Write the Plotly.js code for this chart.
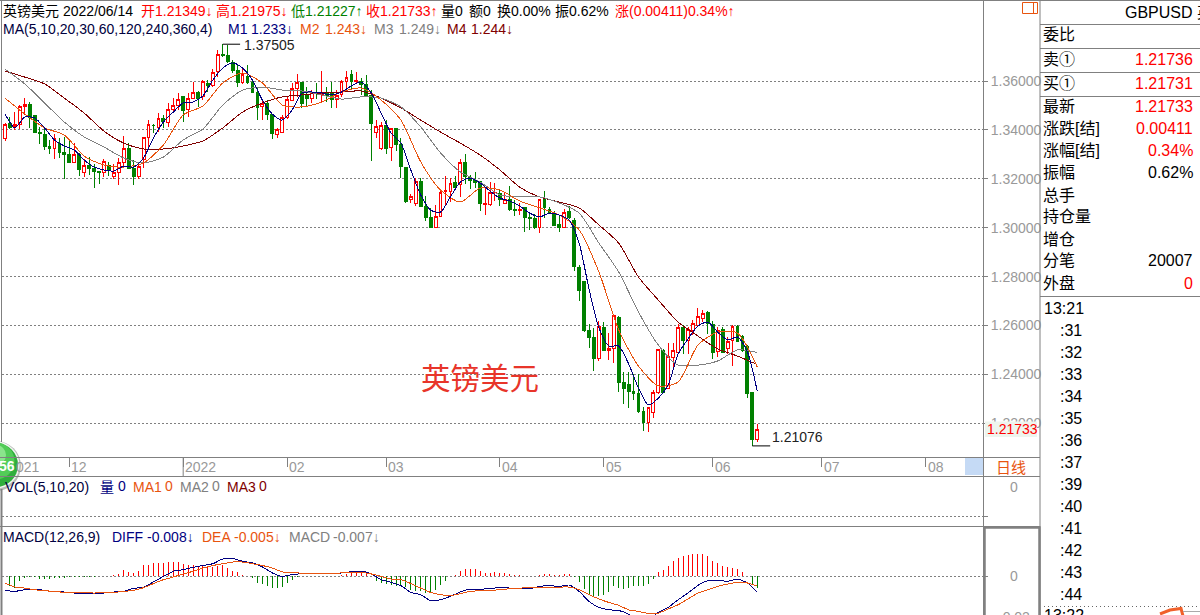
<!DOCTYPE html>
<html>
<head>
<meta charset="utf-8">
<script src="https://cdn.plot.ly/plotly-3.0.1.min.js"></script>
<style>html,body{margin:0;padding:0;background:#fff;overflow:hidden}#c{width:1200px;height:615px}
#c path.js-line,#c .boxlayer path,#c .barlayer path{shape-rendering:crispEdges}</style>
</head>
<body>
<div id="c"></div>
<script>
const opens=[1.3363,1.3428,1.3412,1.3424,1.3494,1.3502,1.3457,1.3391,1.3383,1.3334,
1.3326,1.3346,1.3306,1.3301,1.3265,1.3301,1.3224,1.3256,1.3244,1.3228,
1.3224,1.3256,1.3211,1.3224,1.3265,1.3326,1.3244,1.3211,1.3277,1.3367,
1.3420,1.3408,1.3445,1.3432,1.3485,1.3498,1.3535,1.3485,1.3530,1.3551,
1.3535,1.3588,1.3580,1.3637,1.3710,1.3706,1.3674,1.3645,1.3592,1.3620,
1.3592,1.3555,1.3494,1.3510,1.3461,1.3383,1.3391,1.3449,1.3522,1.3571,
1.3592,1.3539,1.3530,1.3551,1.3543,1.3551,1.3555,1.3526,1.3543,1.3596,
1.3625,1.3596,1.3600,1.3584,1.3539,1.3391,1.3322,1.3420,1.3330,1.3404,
1.3342,1.3248,1.3117,1.3101,1.3187,1.3085,1.3040,1.3002,1.3044,1.3150,
1.3150,1.3183,1.3175,1.3265,1.3207,1.3195,1.3187,1.3093,1.3093,1.3142,
1.3138,1.3101,1.3117,1.3076,1.3072,1.3081,1.3040,1.3036,1.3002,1.3117,
1.3076,1.3056,1.3015,1.2999,1.3068,1.3031,1.2839,1.2778,1.2578,1.2549,
1.2467,1.2590,1.2496,1.2508,1.2631,1.2365,1.2357,1.2332,1.2320,1.2250,
1.2205,1.2246,1.2324,1.2496,1.2344,1.2471,1.2488,1.2590,1.2537,1.2578,
1.2602,1.2627,1.2655,1.2606,1.2492,1.2582,1.2504,1.2537,1.2594,1.2557,
1.2516,1.2324,1.21349];
const highs=[1.3428,1.3453,1.3473,1.3502,1.3530,1.3514,1.3457,1.3412,1.3408,1.3359,
1.3383,1.3367,1.3371,1.3355,1.3346,1.3306,1.3281,1.3289,1.3261,1.3228,
1.3281,1.3269,1.3261,1.3285,1.3375,1.3346,1.3277,1.3269,1.3367,1.3440,
1.3424,1.3469,1.3461,1.3510,1.3530,1.3551,1.3539,1.3551,1.3596,1.3559,
1.3604,1.3604,1.3649,1.3727,1.37505,1.3747,1.3686,1.3665,1.3653,1.3665,
1.3608,1.3571,1.3522,1.3522,1.3465,1.3408,1.3461,1.3535,1.3592,1.3629,
1.3596,1.3575,1.3563,1.3592,1.3641,1.3575,1.3596,1.3563,1.3604,1.3641,
1.3645,1.3637,1.3612,1.3625,1.3563,1.3440,1.3432,1.3440,1.3408,1.3408,
1.3367,1.3248,1.3138,1.3203,1.3203,1.3130,1.3081,1.3093,1.3158,1.3211,
1.3203,1.3211,1.3281,1.3301,1.3216,1.3228,1.3191,1.3166,1.3187,1.3183,
1.3154,1.3142,1.3171,1.3113,1.3101,1.3085,1.3056,1.3056,1.3117,1.3150,
1.3085,1.3068,1.3048,1.3076,1.3089,1.3040,1.2847,1.2778,1.2606,1.2590,
1.2618,1.2614,1.2569,1.2639,1.2639,1.2410,1.2410,1.2402,1.2402,1.2267,
1.2267,1.2336,1.2500,1.2504,1.2528,1.2528,1.2606,1.2602,1.2594,1.2622,
1.2672,1.2663,1.2659,1.2618,1.2594,1.2594,1.2553,1.2602,1.2602,1.2561,
1.2520,1.2328,1.21975];
const lows=[1.3355,1.3404,1.3400,1.3404,1.3461,1.3408,1.3387,1.3342,1.3318,1.3301,
1.3281,1.3285,1.3199,1.3265,1.3265,1.3211,1.3207,1.3216,1.3162,1.3179,
1.3207,1.3211,1.3199,1.3175,1.3244,1.3240,1.3175,1.3199,1.3244,1.3326,
1.3387,1.3391,1.3408,1.3412,1.3473,1.3481,1.3432,1.3453,1.3530,1.3494,
1.3522,1.3555,1.3575,1.3616,1.3698,1.3674,1.3633,1.3575,1.3588,1.3588,
1.3551,1.3440,1.3440,1.3440,1.3363,1.3367,1.3387,1.3445,1.3518,1.3535,
1.3490,1.3494,1.3510,1.3526,1.3510,1.3514,1.3490,1.3490,1.3535,1.3571,
1.3567,1.3592,1.3543,1.3535,1.3273,1.3367,1.3318,1.3301,1.3273,1.3314,
1.3203,1.3101,1.3101,1.3089,1.3085,1.3027,1.3002,1.3002,1.3044,1.3093,
1.3105,1.3166,1.3126,1.3179,1.3158,1.3162,1.3068,1.3052,1.3089,1.3109,
1.3089,1.3097,1.3068,1.3048,1.3052,1.2982,1.2991,1.2995,1.2978,1.3040,
1.3060,1.3007,1.2982,1.2999,1.3036,1.2823,1.2700,1.2573,1.2508,1.2414,
1.2455,1.2496,1.2459,1.2447,1.2328,1.2279,1.2263,1.2295,1.2242,1.2169,
1.2164,1.2222,1.2320,1.2324,1.2344,1.2422,1.2483,1.2483,1.2483,1.2561,
1.2598,1.2614,1.2565,1.2463,1.2471,1.2488,1.2483,1.2434,1.2533,1.2492,
1.2303,1.21076,1.21227];
const closes=[1.3424,1.3408,1.3424,1.3494,1.3502,1.3449,1.3391,1.3387,1.3334,1.3326,
1.3363,1.3306,1.3301,1.3265,1.3301,1.3240,1.3256,1.3244,1.3228,1.3224,
1.3269,1.3232,1.3224,1.3265,1.3326,1.3244,1.3211,1.3252,1.3367,1.3424,
1.3416,1.3445,1.3436,1.3485,1.3498,1.3526,1.3481,1.3530,1.3551,1.3530,
1.3596,1.3580,1.3633,1.3710,1.3706,1.3678,1.3645,1.3592,1.3625,1.3592,
1.3555,1.3490,1.3510,1.3461,1.3387,1.3400,1.3449,1.3526,1.3571,1.3592,
1.3510,1.3530,1.3551,1.3547,1.3551,1.3539,1.3526,1.3539,1.3596,1.3616,
1.3600,1.3604,1.3584,1.3539,1.3428,1.3412,1.3416,1.3326,1.3404,1.3342,
1.3252,1.3109,1.3126,1.3187,1.3085,1.3040,1.3002,1.3044,1.3146,1.3154,
1.3179,1.3166,1.3265,1.3211,1.3195,1.3183,1.3101,1.3097,1.3142,1.3146,
1.3117,1.3117,1.3076,1.3072,1.3076,1.3040,1.3036,1.2999,1.3117,1.3081,
1.3060,1.3011,1.2999,1.3064,1.3040,1.2843,1.2745,1.2578,1.2553,1.2467,
1.2598,1.2496,1.2504,1.2639,1.2365,1.2344,1.2332,1.2320,1.2250,1.2205,
1.2263,1.2324,1.2500,1.2324,1.2475,1.2496,1.2590,1.2537,1.2582,1.2610,
1.2635,1.2651,1.2610,1.2488,1.2578,1.2488,1.2533,1.2594,1.2533,1.2496,
1.2320,1.21322,1.21733];

// moving averages read every 2nd candle (M1) and every 4th candle (M2..M4)
const m1=[1.3465,1.3408,1.3453,1.3449,1.3408,1.3359,1.3334,1.3318,1.3277,1.3248,
1.3236,1.3232,1.3252,1.3248,1.3285,1.3367,1.3432,1.3473,1.3510,1.3514,
1.3539,1.3604,1.3653,1.3674,1.3653,1.3604,1.3522,1.3465,1.3440,1.3481,
1.3551,1.3555,1.3551,1.3543,1.3555,1.3580,1.3596,1.3551,1.3469,1.3387,
1.3346,1.3236,1.3134,1.3072,1.3064,1.3126,1.3187,1.3203,1.3183,1.3150,
1.3121,1.3109,1.3089,1.3060,1.3044,1.3060,1.3052,1.3031,1.2937,1.2749,
1.2590,1.2516,1.2516,1.2443,1.2344,1.2275,1.2303,1.2357,1.2483,1.2545,
1.2598,1.2614,1.2573,1.2541,1.2553,1.2492,1.233];
const m2=[1.3530,1.3465,1.3408,1.3379,1.3293,1.3256,1.3248,1.3265,1.3338,1.3461,
1.3498,1.3592,1.3633,1.3592,1.3502,1.3494,1.3514,1.3555,1.3571,1.3522,
1.3440,1.3269,1.3154,1.3105,1.3162,1.3154,1.3109,1.3081,1.3052,1.2991,
1.2819,1.2582,1.2434,1.2353,1.2369,1.2520,1.2573,1.2569,1.243];
const m3=[1.3649,1.3588,1.3510,1.3432,1.3371,1.3330,1.3285,1.3265,1.3289,1.3359,
1.3404,1.3502,1.3563,1.3575,1.3563,1.3559,1.3543,1.3526,1.3535,1.3530,
1.3494,1.3412,1.3306,1.3228,1.3187,1.3134,1.3126,1.3126,1.3101,1.3060,
1.2937,1.2819,1.2655,1.2520,1.2438,1.2438,1.2455,1.2500,1.249];
const m4=[1.3641,1.3616,1.3588,1.3530,1.3469,1.3395,1.3346,1.3322,1.3322,1.3334,
1.3355,1.3408,1.3473,1.3510,1.3535,1.3543,1.3551,1.3555,1.3559,1.3530,
1.3490,1.3440,1.3391,1.3346,1.3297,1.3236,1.3166,1.3126,1.3105,1.3081,
1.3011,1.2937,1.2798,1.2704,1.2614,1.2557,1.2504,1.2475,1.244];

const macdHist=[-.0059,-.0051,-.0059,-.0026,-.0010,-.0007,-.0005,-.0013,-.0015,-.0013,
-.0011,-.0010,-.0010,-.0007,-.0005,-.0005,-.0005,-.0003,-.0003,-.0002,
.0002,.0002,.0007,.0011,.0028,.0020,.0016,.0023,.0055,.0055,
.0062,.0062,.0062,.0068,.0068,.0068,.0060,.0055,.0052,.0051,
.0051,.0047,.0044,.0051,.0055,.0039,.0023,.0018,.0007,0,
-.0010,-.0034,-.0039,-.0051,-.0059,-.0059,-.0055,-.0034,-.0018,-.0005,
-.0002,-.0002,-.0002,-.0002,0,.0002,.0002,.0002,.0003,.0010,
.0018,.0023,.0023,.0011,0,-.0026,-.0034,-.0037,-.0042,-.0047,
-.0042,-.0054,-.0067,-.0075,-.0075,-.0083,-.0083,-.0067,-.0042,-.0023,
.0002,.0007,.0026,.0036,.0036,.0036,.0026,.0015,.0015,.0020,
.0015,.0015,.0010,.0007,.0007,.0002,0,0,.0007,.0011,
.0011,.0007,.0003,.0011,.0011,-.0007,-.0031,-.0062,-.0091,-.0104,
-.0099,-.0091,-.0080,-.0051,-.0059,-.0062,-.0059,-.0051,-.0051,-.0051,
-.0037,-.0013,.0021,.0031,.0051,.0072,.0090,.0096,.0104,.0109,
.0109,.0109,.0099,.0075,.0064,.0051,.0042,.0041,.0036,.0021,
0,-.0042,-.0059];
// DIFF and DEA read every 2nd candle
const diff=[-.0070,-.0075,-.0067,-.0064,-.0070,-.0077,-.0078,-.0083,-.0083,-.0083,
-.0083,-.0078,-.0075,-.0060,-.0055,-.0029,-.0002,.0023,.0031,.0042,
.0051,.0060,.0083,.0085,.0072,.0064,.0044,.0015,-.0002,.0007,
.0011,.0011,.0011,.0011,.0015,.0021,.0024,.0010,-.0018,-.0031,
-.0047,-.0080,-.0091,-.0121,-.0116,-.0099,-.0078,-.0064,-.0064,-.0062,
-.0055,-.0059,-.0059,-.0062,-.0051,-.0047,-.0051,-.0044,-.0075,-.0124,
-.0153,-.0165,-.0168,-.0186,-.0214,-.0214,-.0178,-.0153,-.0116,-.0083,
-.0046,-.0023,-.0021,-.0026,-.0015,-.0034,-.008];
const dea=[-.0034,-.0054,-.0059,-.0067,-.0072,-.0075,-.0080,-.0082,-.0082,-.0083,
-.0082,-.0080,-.0075,-.0070,-.0057,-.0037,-.0018,-.0005,.0010,.0023,
.0039,.0051,.0060,.0068,.0068,.0060,.0051,.0039,.0020,.0018,
.0013,.0011,.0011,.0011,.0015,.0015,.0018,.0010,-.0002,-.0015,
-.0018,-.0037,-.0059,-.0080,-.0091,-.0096,-.0086,-.0075,-.0072,-.0070,
-.0067,-.0062,-.0059,-.0057,-.0055,-.0054,-.0054,-.0054,-.0067,-.0091,
-.0112,-.0129,-.0143,-.0165,-.0173,-.0183,-.0181,-.0161,-.0140,-.0112,
-.0083,-.0067,-.0051,-.0039,-.0031,-.0034,-.005];
const volumes=opens.map(()=>0);

const monthTickIdx=[13,36,57,77,100,121,143,165,186];
const monthLabels=['12','2022','02','03','04','05','06','07','08'];
const priceTicks=[1.36,1.34,1.32,1.30,1.28,1.26,1.24,1.22];

const quoteLabels=['委比','卖①','买①','最新','涨跌[结]','涨幅[结]','振幅','总手','持仓量','增仓','分笔','外盘'];
const quoteValues=['','1.21736','1.21731','1.21733','0.00411','0.34%','0.62%','','','','20007','0'];
const quoteColors=['','#ff0000','#ff0000','#ff0000','#ff0000','#ff0000','#000000','','','','#000000','#ff0000'];
const tapeTimes=[':31',':32',':33',':34',':35',':36',':37',':39',':40',':41',':42',':43',':44'];

const W=1200,H=615;
const F='"Liberation Sans","Noto Sans CJK SC",sans-serif';
const GR='#808080',RED='#ff0000',GRN='#008000',BLU='#000080',ORG='#e8540f',DRD='#800000';
const px=v=>v/W, py=v=>1-v/H;
const T=(x,y,text,color,size,anchor)=>({xref:'paper',yref:'paper',x:px(x),y:py(y),text:text,showarrow:false,
  xanchor:anchor||'left',yanchor:'middle',borderpad:0,borderwidth:0,font:{family:F,size:size||14,color:color||'#000'}});
const L=(x0,y0,x1,y1,color,width,dash)=>({type:'line',xref:'paper',yref:'paper',x0:px(x0),y0:py(y0),x1:px(x1),y1:py(y1),
  layer:'above',line:{color:color||GR,width:width||1,dash:dash||'solid'}});
const R=(x0,y0,x1,y1,fill,color,width)=>({type:'rect',xref:'paper',yref:'paper',x0:px(x0),y0:py(y0),x1:px(x1),y1:py(y1),
  layer:'above',fillcolor:fill||'rgba(0,0,0,0)',line:{color:color||'rgba(0,0,0,0)',width:width||0}});
const C=(cx,cy,r,fill,color)=>({type:'circle',xref:'paper',yref:'paper',x0:px(cx-r),y0:py(cy-r),x1:px(cx+r),y1:py(cy+r),
  layer:'above',fillcolor:fill,line:{color:color||'rgba(0,0,0,0)',width:color?1:0}});

const idx=opens.map((_,i)=>i);
const every=(arr,n)=>arr.map((_,i)=>i*n);
const ln=(xs,ys,color,w,yaxis,sm)=>({type:'scatter',mode:'lines',x:xs,y:ys,yaxis:yaxis,xaxis:'x',
  line:{color:color,width:w,shape:'spline',smoothing:sm},hoverinfo:'skip',showlegend:false});

const traces=[
 {type:'candlestick',x:idx,open:opens,high:highs,low:lows,close:closes,xaxis:'x',yaxis:'y',
  increasing:{line:{color:RED,width:1},fillcolor:'#ffffff'},
  decreasing:{line:{color:GRN,width:1},fillcolor:GRN},
  whiskerwidth:0,hoverinfo:'skip',showlegend:false},
 ln(every(m4,4),m4,DRD,1,'y',0.7),
 ln(every(m3,4),m3,GR,1,'y',0.7),
 ln(every(m2,4),m2,ORG,1,'y',0.7),
 ln(every(m1,2),m1,BLU,1,'y',0.7),
 {type:'bar',x:idx,y:volumes,xaxis:'x',yaxis:'y2',marker:{color:RED},hoverinfo:'skip',showlegend:false},
 {type:'bar',x:idx,y:macdHist,xaxis:'x',yaxis:'y3',width:0.2,
  marker:{color:macdHist.map(v=>v>=0?RED:GRN),line:{width:0}},hoverinfo:'skip',showlegend:false},
 ln(every(diff,2),diff,BLU,1,'y3',0.5),
 ln(every(dea,2),dea,ORG,1,'y3',0.5)
];

const ann=[];
// header line 1
ann.push(T(3,11,'英镑美元'));
ann.push(T(63,11,'2022/06/14'));
ann.push(T(141,11,'开1.21349↓',RED));
ann.push(T(216,11,'高1.21975↓',RED));
ann.push(T(291,11,'低1.21227↑',GRN));
ann.push(T(366,11,'收1.21733↑',RED));
ann.push(T(441,11,'量0'));
ann.push(T(469,11,'额0'));
ann.push(T(497,11,'换0.00%'));
ann.push(T(555,11,'振0.62%'));
ann.push(T(615,11,'涨(0.00411)0.34%↑',RED));
// header line 2
ann.push(T(3,29,'MA(5,10,20,30,60,120,240,360,4)','#000040'));
ann.push(T(228,29,'M1',BLU));ann.push(T(251,29,'1.233↓',BLU));
ann.push(T(300,29,'M2',ORG));ann.push(T(325,29,'1.243↓',ORG));
ann.push(T(374,29,'M3',GR));ann.push(T(399,29,'1.249↓',GR));
ann.push(T(447,29,'M4',DRD));ann.push(T(471,29,'1.244↓',DRD));
// extrema
ann.push(T(244,45,'1.37505','#222'));
ann.push(T(772,437,'1.21076','#222'));
// watermark
ann.push(T(421,378,'英镑美元','#e8352a',29.5));
// month labels
ann.push(T(16,467,'021','#999'));
monthTickIdx.forEach((v,i)=>{ann.push({xref:'x',yref:'paper',x:v,y:py(467),text:monthLabels[i],showarrow:false,
  xanchor:'left',yanchor:'middle',xshift:2,borderpad:0,borderwidth:0,font:{family:F,size:14,color:'#999'}});});
// sub-panel headers
ann.push(T(5,487,'VOL(5,10,20)','#000040'));
ann.push(T(100,487,'量',BLU));ann.push(T(118,486,'0',BLU));
ann.push(T(133,487,'MA1',ORG));ann.push(T(165,486,'0',ORG));
ann.push(T(180,487,'MA2',GR));ann.push(T(212,486,'0',GR));
ann.push(T(227,487,'MA3',DRD));ann.push(T(259,486,'0',DRD));
ann.push(T(3,537,'MACD(12,26,9)','#000040'));
ann.push(T(112,537,'DIFF',BLU));ann.push(T(147,537,'-0.008↓',BLU));
ann.push(T(202,537,'DEA',ORG));ann.push(T(234,537,'-0.005↓',ORG));
ann.push(T(289,537,'MACD',GR));ann.push(T(333,537,'-0.007↓',GR));
// axis column
ann.push(T(1012,429,'1.21733',RED,14,'center'));
ann.push(T(1011,467,'日线',ORG,15,'center'));
ann.push(T(1014,487,'0','#999',14,'center'));
ann.push(T(1014,576,'0','#999',14,'center'));
ann.push(T(1014,617,'-0.02','#999',14,'center'));
// quote panel
ann.push(T(1125,12,'GBPUSD 英','#000',16));
const rowY=[34,59,83,107,129,151,173,195,217,239,261,283];
quoteLabels.forEach((s,i)=>{
  ann.push(T(1043,rowY[i],s,'#000',16));
  if(quoteValues[i]) ann.push(T(1193,rowY[i],quoteValues[i],quoteColors[i],16,'right'));
});
// tape
ann.push(T(1044,308,'13:21','#000',16));
tapeTimes.forEach((s,i)=>ann.push(T(1082,330+22*i,s,'#000',16,'right')));
ann.push(T(1044,615,'13:22','#000',16));
// badge
ann.push(T(7,466,'<b>56</b>','#fff',14,'center'));

const shapes=[
 // badge
 C(-4,466,25,'#b8bcb8'),C(-4,465,23.5,'#f2f5f2'),C(-4,465,22,'#2fae3c'),C(-4,461,18.5,'#52cc58'),C(-4,455,10,'#8be48c'),
 // frame
 L(0,0.5,1200,0.5),L(1.5,0,1.5,442),L(1.5,489,1.5,615,GR,2),
 L(983.5,0,983.5,615),L(1040,0,1040,615),
 L(0,457.5,1040,457.5),L(0,476.5,1040,476.5),L(0,526.5,1040,526.5),
 // long tick of the year label
 {type:'line',xref:'x',yref:'paper',x0:36,x1:36,y0:py(457),y1:py(476),layer:'above',line:{color:GR,width:1}},
 // extrema leaders
 {type:'line',xref:'x',yref:'y',x0:44,x1:47.5,y0:1.37505,y1:1.37505,layer:'above',line:{color:'#000',width:1}},
 {type:'line',xref:'x',yref:'y',x0:151,x1:154.6,y0:1.21076,y1:1.21076,layer:'above',line:{color:'#000',width:1}},
 // last price label
 R(985,421.5,1037,437,'#eef5ee'),
 // icon
 R(1022.5,2.5,1037.5,13.5,'rgba(0,0,0,0)',ORG,1),L(1033.5,2.5,1033.5,13.5,ORG,1),
 // period selector
 R(965,458,983,475,'#c5daf5'),
 // macd scale box
 R(984.5,527.5,1039.5,617,'rgba(0,0,0,0)',GR,2.5),
 // quote rows
 L(1040,24.5,1200,24.5),L(1040,48.5,1200,48.5),L(1040,72.5,1200,72.5),L(1040,96.5,1200,96.5),L(1040,296.5,1200,296.5),
 // tape
 {...L(1044,606.5,1200,606.5,'#666',1),line:{color:'#666',width:1,dash:'1px,3px'}},
 {type:'path',xref:'paper',yref:'paper',layer:'above',
  path:'M'+px(1160)+','+py(614)+' L'+px(1170)+','+py(610)+' L'+px(1181)+','+py(608.5)+' L'+px(1183)+','+py(616),
  line:{color:'#f0602a',width:3},fillcolor:'rgba(0,0,0,0)'},
 L(1183,611.5,1200,611.5,'#aaa',1)
];

const layout={
 width:W,height:H,margin:{l:0,r:0,t:0,b:0,pad:0},paper_bgcolor:'#fff',plot_bgcolor:'#fff',
 showlegend:false,boxmode:'overlay',boxgap:0.18,barmode:'overlay',hovermode:false,dragmode:false,
 font:{family:F},
 xaxis:{domain:[px(2),px(983)],range:[-0.606,197.6],anchor:'y',type:'linear',rangeslider:{visible:false},
  tickmode:'array',tickvals:monthTickIdx,ticktext:monthTickIdx.map(()=>''),ticks:'outside',ticklen:9,tickcolor:GR,tickwidth:1,
  showgrid:false,zeroline:false,showline:false,fixedrange:true},
 yaxis:{domain:[py(457),1],range:[1.20622,1.39313],side:'right',anchor:'x',
  tickmode:'array',tickvals:priceTicks,tickformat:'.5f',ticks:'outside',ticklen:4,tickcolor:GR,tickwidth:1,
  tickfont:{family:F,size:14,color:'#999'},showgrid:true,gridcolor:GR,griddash:'2px,2px',gridwidth:1,
  zeroline:false,showline:false,fixedrange:true},
 yaxis2:{domain:[py(526),py(476)],range:[-0.2,0.8],side:'right',anchor:'x',
  tickmode:'array',tickvals:[0],showticklabels:false,ticks:'outside',ticklen:4,tickcolor:GR,
  showgrid:true,gridcolor:GR,griddash:'2px,2px',zeroline:false,showline:false,fixedrange:true},
 yaxis3:{domain:[0,py(527)],range:[-0.01902,0.0239],side:'right',anchor:'x',
  tickmode:'array',tickvals:[0],showticklabels:false,ticks:'outside',ticklen:4,tickcolor:GR,
  showgrid:true,gridcolor:GR,griddash:'2px,2px',zeroline:false,showline:false,fixedrange:true},
 annotations:ann,shapes:shapes
};
Plotly.newPlot('c',traces,layout,{displayModeBar:false,staticPlot:true});
</script>
</body>
</html>
